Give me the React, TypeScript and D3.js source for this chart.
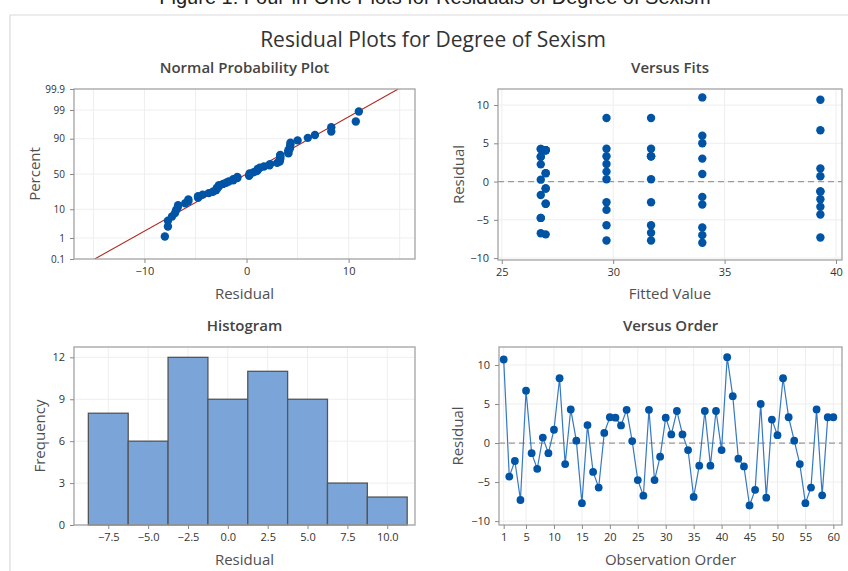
import React, { useEffect, useRef } from "react";
import * as d3 from "d3";

// residuals in observation order
const residuals = [
  10.7, -4.3, -2.3, -7.3, 6.7, -1.3, -3.3, 0.7, -1.3, 1.7,
  8.3, -2.7, 4.3, 0.3, -7.7, 2.3, -3.7, -5.7, 1.3, 3.3,
  3.25, 2.25, 4.25, 0.25, -4.75, -6.75, 4.25, -4.75, -1.75, 3.25,
  1.1, 4.1, 1.1, -0.9, -6.9, -2.9, 4.1, -2.9, 4.1, -0.9,
  11, 6, -2, -3, -8, -6, 5, -7, 3, 1,
  8.3, 3.3, 0.3, -2.7, -7.7, -5.7, 4.3, -6.7, 3.3, 3.3,
];

// fitted values, same order
const fitted = [
  39.3, 39.3, 39.3, 39.3, 39.3, 39.3, 39.3, 39.3, 39.3, 39.3,
  29.7, 29.7, 29.7, 29.7, 29.7, 29.7, 29.7, 29.7, 29.7, 29.7,
  26.75, 26.75, 26.75, 26.75, 26.75, 26.75, 26.75, 26.75, 26.75, 26.75,
  26.97, 26.97, 26.97, 26.97, 26.97, 26.97, 26.97, 26.97, 26.97, 26.97,
  34.0, 34.0, 34.0, 34.0, 34.0, 34.0, 34.0, 34.0, 34.0, 34.0,
  31.7, 31.7, 31.7, 31.7, 31.7, 31.7, 31.7, 31.7, 31.7, 31.7,
];

const probTicks = [0.1, 1, 10, 50, 90, 99, 99.9];
const probLabels = ["0.1", "1", "10", "50", "90", "99", "99.9"];
const nppXTicks = [-10, 0, 10];
const nppXGrid = [-15, -10, -5, 0, 5, 10, 15];
const fitsXTicks = [25, 30, 35, 40];
const residTicks = [-10, -5, 0, 5, 10];
const histEdges = [-8.75, -6.25, -3.75, -1.25, 1.25, 3.75, 6.25, 8.75, 11.25];
const histTicks = [-7.5, -5, -2.5, 0, 2.5, 5, 7.5, 10];
const freqTicks = [0, 3, 6, 9, 12];
const orderTicks = [1, 5, 10, 15, 20, 25, 30, 35, 40, 45, 50, 55, 60];

const FONT = "'Open Sans', 'Noto Sans', sans-serif";
const BLUE = "#0054a6";

// inverse standard normal cdf (Acklam)
function probit(p: number): number {
  const a = [-39.69683028665376, 220.9460984245205, -275.9285104469687, 138.357751867269, -30.66479806614716, 2.506628277459239];
  const b = [-54.47609879822406, 161.5858368580409, -155.6989798598866, 66.80131188771972, -13.28068155288572];
  const c = [-0.007784894002430293, -0.3223964580411365, -2.400758277161838, -2.549732539343734, 4.374664141464968, 2.938163982698783];
  const d = [0.007784695709041462, 0.3224671290700398, 2.445134137142996, 3.754408661907416];
  const pl = 0.02425;
  if (p < pl) {
    const q = Math.sqrt(-2 * Math.log(p));
    return (((((c[0] * q + c[1]) * q + c[2]) * q + c[3]) * q + c[4]) * q + c[5]) / ((((d[0] * q + d[1]) * q + d[2]) * q + d[3]) * q + 1);
  }
  if (p > 1 - pl) {
    const q = Math.sqrt(-2 * Math.log(1 - p));
    return -(((((c[0] * q + c[1]) * q + c[2]) * q + c[3]) * q + c[4]) * q + c[5]) / ((((d[0] * q + d[1]) * q + d[2]) * q + d[3]) * q + 1);
  }
  const q = p - 0.5, r = q * q;
  return ((((((a[0] * r + a[1]) * r + a[2]) * r + a[3]) * r + a[4]) * r + a[5]) * q) / (((((b[0] * r + b[1]) * r + b[2]) * r + b[3]) * r + b[4]) * r + 1);
}

const App = () => {
  const svgRef = useRef<SVGSVGElement>(null);

  useEffect(() => {
    const svg = d3.select(svgRef.current).html("");

    // caption, cut off at the top like in the screenshot
    svg.append("text")
      .attr("x", 435).attr("y", 4)
      .attr("text-anchor", "middle")
      .style("font-family", "'Liberation Sans', Arial, sans-serif")
      .style("font-size", "20px")
      .attr("fill", "#222")
      .text("Figure 1: Four-in-One Plots for Residuals of Degree of Sexism");

    // outer box
    svg.append("path").attr("d", "M10,571V15H848")
      .attr("fill", "none").attr("stroke", "#dadada").attr("stroke-width", 1.2);

    svg.append("text")
      .attr("x", 433).attr("y", 47)
      .attr("text-anchor", "middle")
      .style("font-family", FONT).style("font-size", "21px")
      .attr("fill", "#333")
      .text("Residual Plots for Degree of Sexism");

    const styleAxis = (g: any) => {
      g.select(".domain").remove();
      g.selectAll(".tick line").attr("stroke", "#8a8a8a");
      g.selectAll(".tick text").attr("fill", "#333").style("font-family", FONT).style("font-size", "11px");
    };

    const panel = (x0: number, x1: number, y0: number, y1: number, title: string, xLabel: string, yLabel: string, yLabelX: number, xLabelY: number) => {
      const g = svg.append("g");
      g.append("text")
        .attr("x", (x0 + x1) / 2).attr("y", y0 - 16)
        .attr("text-anchor", "middle")
        .style("font-family", FONT).style("font-size", "15px").style("font-weight", 600)
        .attr("fill", "#444").text(title);
      g.append("text")
        .attr("x", (x0 + x1) / 2).attr("y", xLabelY)
        .attr("text-anchor", "middle")
        .style("font-family", FONT).style("font-size", "15px")
        .attr("fill", "#505050").text(xLabel);
      g.append("text")
        .attr("transform", `translate(${yLabelX},${(y0 + y1) / 2}) rotate(-90)`)
        .attr("text-anchor", "middle").attr("dy", "0.35em")
        .style("font-family", FONT).style("font-size", "15px")
        .attr("fill", "#505050").text(yLabel);
      return g;
    };

    const grid = (g: any, xs: number[], ys: number[], x: any, y: any, x0: number, x1: number, y0: number, y1: number) => {
      const gg = g.append("g").attr("stroke", "#eeeeee").attr("stroke-width", 1);
      xs.forEach((v) => gg.append("line").attr("x1", x(v)).attr("x2", x(v)).attr("y1", y0).attr("y2", y1));
      ys.forEach((v) => gg.append("line").attr("x1", x0).attr("x2", x1).attr("y1", y(v)).attr("y2", y(v)));
    };

    const frame = (g: any, x0: number, x1: number, y0: number, y1: number) => {
      g.append("rect").attr("x", x0).attr("y", y0).attr("width", x1 - x0).attr("height", y1 - y0)
        .attr("fill", "none").attr("stroke", "#a3a3a3").attr("stroke-width", 1.3);
    };

    // ---------- Normal probability plot ----------
    {
      const [x0, x1, y0, y1] = [74, 415, 89, 259];
      const g = panel(x0, x1, y0, y1, "Normal Probability Plot", "Residual", "Percent", 35, 299);
      const x = d3.scaleLinear().domain([-16.9, 16.5]).range([x0, x1]);
      const y = d3.scaleLinear().domain([probit(0.001), probit(0.999)]).range([y1, y0]);
      const py = (p: number) => y(probit(p / 100));
      grid(g, nppXGrid, [], x, y, x0, x1, y0, y1);
      probTicks.slice(1, -1).forEach((p) =>
        g.append("line").attr("x1", x0).attr("x2", x1).attr("y1", py(p)).attr("y2", py(p))
          .attr("stroke", "#eeeeee"));
      const n = residuals.length;
      const sorted = residuals.slice().sort((a, b) => a - b);
      const mean = d3.mean(residuals) as number;
      const sd = d3.deviation(residuals) as number;
      const clipId = "npp-clip";
      g.append("clipPath").attr("id", clipId).append("rect")
        .attr("x", x0).attr("y", y0).attr("width", x1 - x0).attr("height", y1 - y0);
      const zLo = probit(0.001), zHi = probit(0.999);
      g.append("line")
        .attr("clip-path", `url(#${clipId})`)
        .attr("x1", x(mean + sd * zLo)).attr("y1", y(zLo))
        .attr("x2", x(mean + sd * zHi)).attr("y2", y(zHi))
        .attr("stroke", "#b22a22").attr("stroke-width", 1.1);
      g.append("g").selectAll("circle").data(sorted).enter().append("circle")
        .attr("cx", (d) => x(d))
        .attr("cy", (_d, i) => y(probit((i + 1 - 0.3) / (n + 0.4))))
        .attr("r", 4.2).attr("fill", BLUE);
      frame(g, x0, x1, y0, y1);
      g.append("g").attr("transform", `translate(0,${y1})`)
        .call(d3.axisBottom(x).tickValues(nppXTicks).tickSize(4).tickPadding(4).tickFormat(d3.format("d")))
        .call(styleAxis);
      const yAxisScale = d3.scaleLinear().domain([y1, y0]).range([y1, y0]);
      g.append("g").attr("transform", `translate(${x0},0)`)
        .call(d3.axisLeft(yAxisScale).tickValues(probTicks.map(py)).tickSize(4).tickPadding(5)
          .tickFormat((_d, i) => probLabels[i]))
        .call(styleAxis)
        .call((a: any) => a.selectAll(".tick text").style("font-size", "10px"));
    }

    // ---------- Versus Fits ----------
    {
      const [x0, x1, y0, y1] = [498, 842, 89, 260];
      const g = panel(x0, x1, y0, y1, "Versus Fits", "Fitted Value", "Residual", 459, 299);
      const x = d3.scaleLinear().domain([24.83, 40.27]).range([x0, x1]);
      const y = d3.scaleLinear().domain([-10.25, 12.1]).range([y1, y0]);
      grid(g, fitsXTicks, residTicks, x, y, x0, x1, y0, y1);
      g.append("line").attr("x1", x0).attr("x2", x1).attr("y1", y(0)).attr("y2", y(0))
        .attr("stroke", "#9a9a9a").attr("stroke-width", 1.3).attr("stroke-dasharray", "6,4");
      g.append("g").selectAll("circle").data(residuals).enter().append("circle")
        .attr("cx", (_d, i) => x(fitted[i]))
        .attr("cy", (d) => y(d))
        .attr("r", 4.2).attr("fill", BLUE);
      frame(g, x0, x1, y0, y1);
      g.append("g").attr("transform", `translate(0,${y1})`)
        .call(d3.axisBottom(x).tickValues(fitsXTicks).tickSize(4).tickPadding(4).tickFormat(d3.format("d")))
        .call(styleAxis);
      g.append("g").attr("transform", `translate(${x0},0)`)
        .call(d3.axisLeft(y).tickValues(residTicks).tickSize(4).tickPadding(5).tickFormat(d3.format("d")))
        .call(styleAxis);
    }

    // ---------- Histogram ----------
    {
      const [x0, x1, y0, y1] = [74, 415, 347, 525];
      const g = panel(x0, x1, y0, y1, "Histogram", "Residual", "Frequency", 40, 565);
      const x = d3.scaleLinear().domain([-9.65, 11.74]).range([x0, x1]);
      const y = d3.scaleLinear().domain([0, 12.74]).range([y1, y0]);
      grid(g, histTicks, freqTicks, x, y, x0, x1, y0, y1);
      const bins = d3.bin<number, number>()
        .domain([histEdges[0], histEdges[histEdges.length - 1]])
        .thresholds(histEdges.slice(1, -1))(residuals);
      g.append("g").selectAll("rect").data(bins).enter().append("rect")
        .attr("x", (d) => x(d.x0 as number))
        .attr("y", (d) => y(d.length))
        .attr("width", (d) => x(d.x1 as number) - x(d.x0 as number))
        .attr("height", (d) => y(0) - y(d.length))
        .attr("fill", "#7ba5d8").attr("stroke", "#555").attr("stroke-width", 1.3);
      frame(g, x0, x1, y0, y1);
      g.append("g").attr("transform", `translate(0,${y1})`)
        .call(d3.axisBottom(x).tickValues(histTicks).tickSize(4).tickPadding(4).tickFormat(d3.format(".1f")))
        .call(styleAxis);
      g.append("g").attr("transform", `translate(${x0},0)`)
        .call(d3.axisLeft(y).tickValues(freqTicks).tickSize(4).tickPadding(5).tickFormat(d3.format("d")))
        .call(styleAxis);
    }

    // ---------- Versus Order ----------
    {
      const [x0, x1, y0, y1] = [499, 842, 347, 525];
      const g = panel(x0, x1, y0, y1, "Versus Order", "Observation Order", "Residual", 458, 565);
      const x = d3.scaleLinear().domain([0.16, 61.55]).range([x0, x1]);
      const y = d3.scaleLinear().domain([-10.5, 12.3]).range([y1, y0]);
      grid(g, orderTicks, residTicks, x, y, x0, x1, y0, y1);
      g.append("line").attr("x1", x0).attr("x2", x1).attr("y1", y(0)).attr("y2", y(0))
        .attr("stroke", "#9a9a9a").attr("stroke-width", 1.3).attr("stroke-dasharray", "6,4");
      const line = d3.line<number>().x((_d, i) => x(i + 1)).y((d) => y(d));
      g.append("path").datum(residuals).attr("d", line)
        .attr("fill", "none").attr("stroke", "#3578c4").attr("stroke-width", 1.2);
      g.append("g").selectAll("circle").data(residuals).enter().append("circle")
        .attr("cx", (_d, i) => x(i + 1))
        .attr("cy", (d) => y(d))
        .attr("r", 3.9).attr("fill", BLUE);
      frame(g, x0, x1, y0, y1);
      g.append("g").attr("transform", `translate(0,${y1})`)
        .call(d3.axisBottom(x).tickValues(orderTicks).tickSize(4).tickPadding(4).tickFormat(d3.format("d")))
        .call(styleAxis);
      g.append("g").attr("transform", `translate(${x0},0)`)
        .call(d3.axisLeft(y).tickValues(residTicks).tickSize(4).tickPadding(5).tickFormat(d3.format("d")))
        .call(styleAxis);
    }
  }, []);

  return (
    <svg
      ref={svgRef}
      width={848}
      height={571}
      style={{ position: "absolute", left: 0, top: 0, background: "#fff" }}
    />
  );
};

export default App;
